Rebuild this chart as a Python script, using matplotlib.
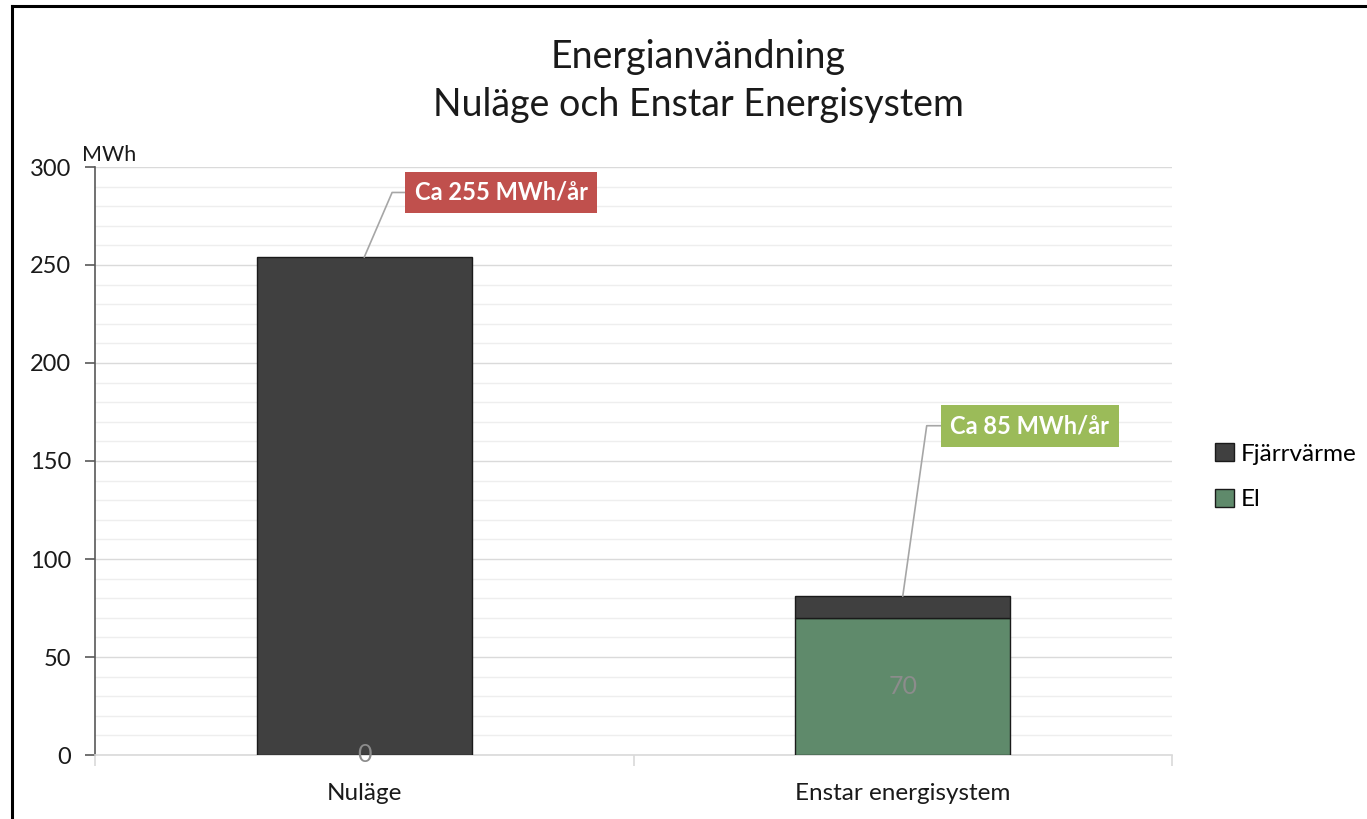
import matplotlib.pyplot as plt
from matplotlib.lines import Line2D
from matplotlib.patches import Patch
import numpy as np

# values
categories = ['Nuläge', 'Enstar energisystem']
el = [0, 70]
fjarrvarme = [254, 11]
callouts = ['Ca 255 MWh/år', 'Ca 85 MWh/år']

plt.rcParams['font.family'] = ['Lato', 'DejaVu Sans']

DARK = '#404040'
GREEN = '#5F8A6B'
RED_BOX = '#C0504D'
GREEN_BOX = '#9BBB59'

fig = plt.figure(figsize=(13.67, 8.19), dpi=100)
ax = fig.add_axes([95 / 1367, 1 - 755 / 819, 1077 / 1367, 588 / 819])

x = np.arange(len(categories))
width = 0.4
b_el = ax.bar(x, el, width, color=GREEN, edgecolor='#1a1a1a', linewidth=1.0, label='El', zorder=3)
b_fj = ax.bar(x, fjarrvarme, width, bottom=el, color=DARK, edgecolor='#1a1a1a', linewidth=1.0,
              label='Fjärrvärme', zorder=3)

ax.bar_label(b_el, labels=[str(v) for v in el], label_type='center', color='#8C8C8C', fontsize=18, zorder=4)

ax.set_xlim(-0.5, 1.5)
ax.set_ylim(0, 300)
ax.set_yticks(np.arange(0, 301, 50))
ax.set_yticks(np.arange(0, 301, 10), minor=True)
ax.grid(axis='y', which='minor', color='#EEEEEE', linewidth=1.0, zorder=0)
ax.grid(axis='y', which='major', color='#DADADA', linewidth=1.0, zorder=0)

ax.set_xticks(x)
ax.set_xticklabels(categories)
ax.set_xticks([-0.5, 0.5, 1.5], minor=True)
ax.tick_params(axis='x', which='major', length=0, pad=20, labelsize=17.5, labelcolor='#1a1a1a')
ax.tick_params(axis='x', which='minor', length=8, color='#D9D9D9', width=1.2)
ax.tick_params(axis='y', which='major', length=7, color='#595959', width=1.2, labelsize=17,
               labelcolor='#1a1a1a', pad=10)
ax.tick_params(axis='y', which='minor', length=0)

for s in ['top', 'right']:
    ax.spines[s].set_visible(False)
ax.spines['left'].set_color('#595959')
ax.spines['left'].set_linewidth(1.2)
ax.spines['bottom'].set_color('#D9D9D9')
ax.spines['bottom'].set_linewidth(1.2)

ax.text(-0.012, 1.003, 'MWh', transform=ax.transAxes, ha='left', va='bottom', fontsize=15.5, color='#1a1a1a')

totals = [a + b for a, b in zip(el, fjarrvarme)]
box_pos = [(0.254, 287), (1.236, 168)]
box_cols = [RED_BOX, GREEN_BOX]
angles = [66.7, 82]
for i in range(len(categories)):
    ax.annotate(callouts[i], xy=(x[i], totals[i]), xytext=box_pos[i], textcoords='data',
                ha='center', va='center', fontsize=17, fontweight='bold', color='white', zorder=5,
                bbox=dict(boxstyle='square,pad=0.4', fc=box_cols[i], ec='none'),
                arrowprops=dict(arrowstyle='-', color='#A6A6A6', lw=1.2, relpos=(0, 0.5),
                                shrinkA=0, shrinkB=0,
                                connectionstyle='angle,angleA=180,angleB=%s,rad=0' % angles[i]))

fig.text(698 / 1367, 1 - 57 / 819, 'Energianvändning', ha='center', va='center', fontsize=27, color='#1a1a1a')
fig.text(698 / 1367, 1 - 105 / 819, 'Nuläge och Enstar Energisystem', ha='center', va='center',
         fontsize=27, color='#1a1a1a')

handles = [Patch(facecolor=DARK, edgecolor='#1a1a1a'), Patch(facecolor=GREEN, edgecolor='#1a1a1a')]
ax.legend(handles, ['Fjärrvärme', 'El'], loc='center left', bbox_to_anchor=(1.02, 0.473),
          frameon=False, fontsize=17.5, handlelength=0.75, handleheight=0.75, handletextpad=0.3,
          labelspacing=1.0)

# outer frame (left and top only, like the screenshot)
fig.add_artist(Line2D([12 / 1367, 12 / 1367], [0, 1 - 6 / 819], color='black', lw=2.2, transform=fig.transFigure))
fig.add_artist(Line2D([12 / 1367, 1], [1 - 6 / 819, 1 - 6 / 819], color='black', lw=2.2, transform=fig.transFigure))

fig.savefig('out.png', dpi=100)
